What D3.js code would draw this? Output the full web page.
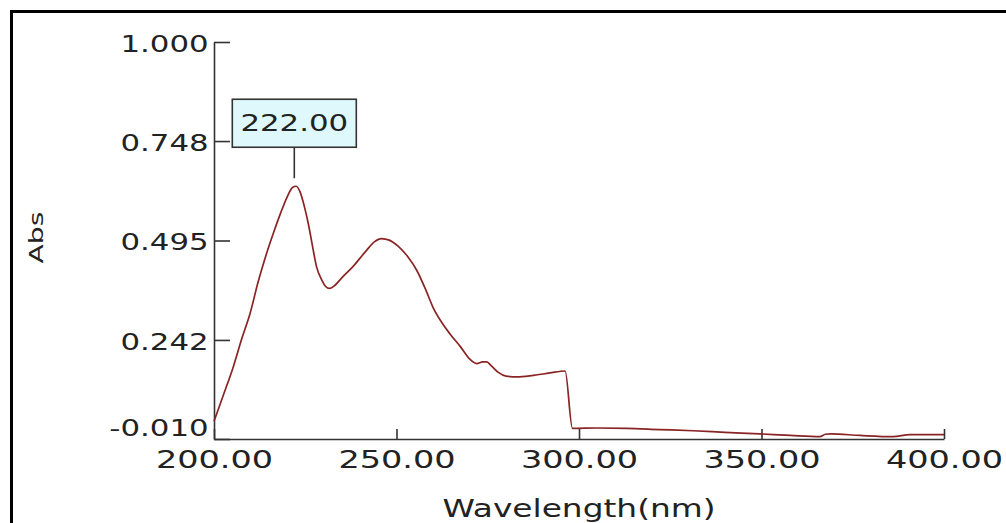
<!DOCTYPE html>
<html>
<head>
<meta charset="utf-8">
<script src="https://cdn.jsdelivr.net/npm/d3@7"></script>
<style>
  body { margin: 0; background: #fff; }
  svg { display: block; }
  text { font-family: "DejaVu Sans", Verdana, sans-serif; fill: #222; }
</style>
</head>
<body>
<div id="chart"></div>
<script>
// spectrum
const wavelengths = [200, 202.5, 205.3, 207.6, 209.9, 212.1, 214.4, 216.5, 218.3, 220, 221.5, 222.5, 223.6, 224.8, 225.9, 227, 228.1, 229.5, 230.6, 231.6, 233, 235, 238, 241.8, 244, 245.9, 248, 250.5, 253, 255.5, 258, 260, 262.5, 264.6, 267.5, 270.1, 272, 273.6, 274.7, 276, 277.8, 280, 283, 287.5, 292, 296.2, 298.2, 305, 313, 322, 331.3, 340, 349.6, 358, 366, 367.5, 369, 377, 386, 390.7, 400];
const absorbance = [0.035, 0.10, 0.174, 0.245, 0.31, 0.39, 0.462, 0.52, 0.566, 0.605, 0.630, 0.633, 0.618, 0.58, 0.535, 0.48, 0.428, 0.395, 0.378, 0.373, 0.380, 0.400, 0.428, 0.470, 0.492, 0.500, 0.496, 0.480, 0.455, 0.42, 0.37, 0.325, 0.285, 0.258, 0.225, 0.193, 0.182, 0.186, 0.186, 0.176, 0.16, 0.15, 0.148, 0.152, 0.158, 0.163, 0.017, 0.018, 0.017, 0.014, 0.011, 0.007, 0.003, -0.001, -0.004, 0.002, 0.003, -0.001, -0.004, 0.001, 0.001];

const xTicks = [200, 250, 300, 350, 400];
const yTicks = [-0.010, 0.242, 0.495, 0.748, 1.000];
const peakWl = 222;
const peakLabel = "222.00";

const width = 1006, height = 523;
const stretch = "scale(1.34,1)"; // the source text is wide

const data = wavelengths.map((w, i) => ({ w, a: absorbance[i] }));

const svg = d3.select("#chart")
    .append("svg")
    .attr("width", width)
    .attr("height", height);

// outer frame (right and bottom edges run off the picture)
svg.append("rect")
    .attr("x", 11.5)
    .attr("y", 11.5)
    .attr("width", 1100)
    .attr("height", 600)
    .attr("fill", "none")
    .attr("stroke", "#000")
    .attr("stroke-width", 3);

const xScale = d3.scaleLinear().domain([200, 400]).range([214, 944]);
const yScale = d3.scaleLinear().domain([-0.010, 1.000]).range([439, 42]);

const leftAxis = d3.axisLeft(yScale)
    .tickValues(yTicks)
    .tickFormat(d => d.toFixed(3))
    .tickSizeInner(-16)
    .tickSizeOuter(0)
    .tickPadding(4);

const bottomAxis = d3.axisBottom(xScale)
    .tickValues(xTicks)
    .tickFormat(d => d.toFixed(2))
    .tickSizeInner(-10)
    .tickSizeOuter(0)
    .tickPadding(11);

const gy = svg.append("g")
    .attr("transform", `translate(${xScale(200)},0)`)
    .call(leftAxis);

const gx = svg.append("g")
    .attr("transform", `translate(0,${yScale(-0.010)})`)
    .call(bottomAxis);

[gx, gy].forEach(g => {
    g.select(".domain").attr("stroke", "#333").attr("stroke-width", 1.6);
    g.selectAll(".tick line").attr("stroke", "#333").attr("stroke-width", 1.6);
    g.selectAll(".tick text")
        .attr("font-family", null)
        .attr("fill", "#222")
        .attr("transform", stretch);
});

gy.selectAll(".tick text").attr("font-size", 23).attr("dy", "0.4em");
// bottom label sits above the axis line
gy.selectAll(".tick text").filter(d => d === yTicks[0]).attr("dy", "-0.17em");
gx.selectAll(".tick text").attr("font-size", 25);

// spectrum line
const lineGenerator = d3.line()
    .x(d => xScale(d.w))
    .y(d => yScale(d.a))
    .curve(d3.curveMonotoneX);

svg.append("path")
    .attr("d", lineGenerator(data))
    .attr("fill", "none")
    .attr("stroke", "#8a2424")
    .attr("stroke-width", 1.7)
    .attr("stroke-linejoin", "round");

// peak marker
const peakA = d3.max(absorbance);
const px = xScale(peakWl);
const py = yScale(peakA);

svg.append("line")
    .attr("x1", px).attr("x2", px)
    .attr("y1", py - 8).attr("y2", py - 39)
    .attr("stroke", "#333")
    .attr("stroke-width", 1.6);

svg.append("rect")
    .attr("x", px - 62)
    .attr("y", py - 87)
    .attr("width", 124)
    .attr("height", 48)
    .attr("fill", "#def8fb")
    .attr("stroke", "#333")
    .attr("stroke-width", 1.6);

svg.append("text")
    .attr("transform", `translate(${px},${py - 55}) ${stretch}`)
    .attr("text-anchor", "middle")
    .attr("font-size", 23)
    .text(peakLabel);

// axis titles
svg.append("text")
    .attr("transform", `translate(${(xScale(200) + xScale(400)) / 2},517) ${stretch}`)
    .attr("text-anchor", "middle")
    .attr("font-size", 24.5)
    .text("Wavelength(nm)");

svg.append("text")
    .attr("transform", "translate(43,237.5) rotate(-90)")
    .attr("text-anchor", "middle")
    .attr("font-size", 20)
    .attr("textLength", 52)
    .attr("lengthAdjust", "spacingAndGlyphs")
    .text("Abs");
</script>
</body>
</html>
